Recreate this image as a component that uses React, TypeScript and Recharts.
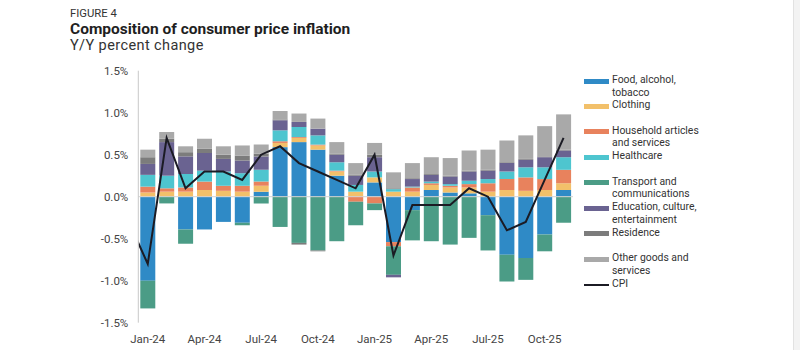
import React from "react";
import { Bar, ComposedChart, Line, ReferenceLine, XAxis, YAxis } from "recharts";

const months = [
  "Jan-24", "Feb-24", "Mar-24", "Apr-24", "May-24", "Jun-24", "Jul-24", "Aug-24",
  "Sep-24", "Oct-24", "Nov-24", "Dec-24", "Jan-25", "Feb-25", "Mar-25", "Apr-25",
  "May-25", "Jun-25", "Jul-25", "Aug-25", "Sep-25", "Oct-25", "Nov-25",
];

// contributions, percentage points
const food = [-1.0, 0, -0.39, -0.39, -0.3, -0.31, 0.06, 0.59, 0.65, 0.56, 0.25, 0, 0.17, -0.54, -0.16, 0.08, 0.05, 0.04, -0.22, -0.69, -0.73, -0.45, 0.08];
const clothing = [0.05, 0.06, 0.06, 0.08, 0.07, 0.06, 0.07, 0.05, 0.05, 0.05, 0.05, 0.06, 0.06, 0.06, 0.06, 0.06, 0.06, 0.07, 0.06, 0.08, 0.07, 0.08, 0.08];
const household = [0.07, 0.04, 0.05, 0.1, 0.06, 0.07, 0.05, 0.02, 0.01, 0.01, 0.01, -0.06, -0.08, -0.05, 0.05, 0.02, 0.02, 0.04, 0.1, 0.13, 0.16, 0.13, 0.16];
const healthcare = [0.14, 0.15, 0.16, 0.13, 0.17, 0.15, 0.14, 0.13, 0.12, 0.11, 0.1, 0.08, 0.07, 0.03, 0.01, 0.02, 0.02, 0.04, 0.05, 0.09, 0.12, 0.14, 0.15];
const transport = [-0.33, -0.08, -0.17, 0, 0, -0.03, -0.08, -0.36, -0.55, -0.64, -0.53, -0.28, -0.08, -0.34, -0.36, -0.53, -0.57, -0.49, -0.42, -0.32, -0.26, -0.2, -0.31];
const education = [0.13, 0.4, 0.21, 0.21, 0.15, 0.15, 0.16, 0.12, 0.06, 0.08, 0.09, 0.11, 0.17, -0.03, 0.09, 0.08, 0.09, 0.11, 0.1, 0.1, 0.09, 0.12, 0.08];
const residence = [0.08, 0.04, 0.05, 0.05, 0.05, 0.06, 0.03, 0.01, -0.02, -0.01, 0.01, 0.01, 0.03, 0.01, 0.01, 0.01, 0.01, 0.01, 0.01, 0.01, 0.01, 0.01, 0.01];
const other = [0.09, 0.08, 0.07, 0.12, 0.1, 0.12, 0.11, 0.1, 0.1, 0.12, 0.14, 0.14, 0.14, 0.19, 0.18, 0.2, 0.21, 0.24, 0.24, 0.26, 0.28, 0.36, 0.42];

// CPI line starts one month earlier (clipped at the plot edge)
const cpiMonths = ["Dec-23", ...months];
const cpi = [-0.3, -0.8, 0.7, 0.1, 0.3, 0.3, 0.2, 0.5, 0.6, 0.4, 0.3, 0.2, 0.1, 0.5, -0.7, -0.1, -0.1, -0.1, 0.1, 0, -0.4, -0.3, 0.2, 0.7];

const yTicks = [-1.5, -1, -0.5, 0, 0.5, 1, 1.5];

const series = [
  { key: "food", label: ["Food, alcohol,", "tobacco"], color: "#2f8ac6", values: food },
  { key: "clothing", label: ["Clothing"], color: "#f2c06a", values: clothing },
  { key: "household", label: ["Household articles", "and services"], color: "#e8825d", values: household },
  { key: "healthcare", label: ["Healthcare"], color: "#4ec5cf", values: healthcare },
  { key: "transport", label: ["Transport and", "communications"], color: "#4b9c86", values: transport },
  { key: "education", label: ["Education, culture,", "entertainment"], color: "#6a6391", values: education },
  { key: "residence", label: ["Residence"], color: "#7c7c7c", values: residence },
  { key: "other", label: ["Other goods and", "services"], color: "#a9a9a9", values: other },
];

const barData = months.map((m, i) => {
  const row: Record<string, string | number> = { month: m };
  series.forEach((s) => (row[s.key] = s.values[i]));
  return row;
});

const lineData = cpiMonths.map((m, i) => ({ month: m, pos: i - 1, cpi: cpi[i] }));

const tickStyle = { fill: "#444", fontSize: 11.5, fontFamily: "Roboto" };

function LegendBox() {
  const items = [
    ...series.map((s) => ({ label: s.label, color: s.color, line: false })),
    { label: ["CPI"], color: "#1b1b24", line: true },
  ];
  return (
    <div style={{ position: "absolute", left: 584, top: 74 }}>
      {items.map((it, i) => (
        <div key={i} style={{ position: "relative", height: 25.45 }}>
          <div
            style={{
              position: "absolute",
              left: 0,
              top: it.line ? 6 : 4.5,
              width: 25,
              height: it.line ? 2 : 5,
              background: it.color,
            }}
          />
          <div
            style={{
              position: "absolute",
              left: 28,
              top: 0,
              fontSize: 10.4,
              lineHeight: "12.6px",
              color: "#333",
              whiteSpace: "nowrap",
            }}
          >
            {it.label.map((l) => (
              <div key={l}>{l}</div>
            ))}
          </div>
        </div>
      ))}
    </div>
  );
}

export default function App() {
  return (
    <div
      style={{
        position: "absolute",
        left: 0,
        top: 0,
        width: 800,
        height: 350,
        background: "#fff",
        fontFamily: "Roboto, sans-serif",
        overflow: "hidden",
      }}
    >
      <div style={{ position: "absolute", left: 70, top: 7, fontSize: 11.3, color: "#333" }}>FIGURE 4</div>
      <div style={{ position: "absolute", left: 70, top: 20, fontSize: 15.5, fontWeight: 700, color: "#1f1f1f" }}>
        Composition of consumer price inflation
      </div>
      <div style={{ position: "absolute", left: 70, top: 37, fontSize: 14.5, color: "#333", letterSpacing: 0.4 }}>
        Y/Y percent change
      </div>

      <div style={{ position: "absolute", left: 0, top: 0 }}>
        <ComposedChart
          width={800}
          height={350}
          data={barData}
          stackOffset="sign"
          margin={{ top: 70.7, right: 227, left: 98.3, bottom: 7.3 }}
        >
          <XAxis
            xAxisId="cat"
            dataKey="month"
            interval={2}
            tickLine={false}
            axisLine={false}
            tick={tickStyle}
            tickMargin={6}
            height={20}
          />
          <XAxis
            xAxisId="num"
            type="number"
            dataKey="pos"
            domain={[-0.5, months.length - 0.5]}
            allowDataOverflow
            hide
          />
          <YAxis
            domain={[-1.5, 1.5]}
            ticks={yTicks}
            tickFormatter={(v: number) => `${v.toFixed(1)}%`}
            tickLine={false}
            axisLine={{ stroke: "#c8c8c8" }}
            tick={tickStyle}
            tickMargin={4}
            width={40}
          />
          {series.map((s) => (
            <Bar
              key={s.key}
              xAxisId="cat"
              dataKey={s.key}
              stackId="a"
              fill={s.color}
              barSize={15}
              isAnimationActive={false}
            />
          ))}
          <ReferenceLine xAxisId="cat" y={0} stroke="#d2d2d2" strokeWidth={1} />
          <Line
            xAxisId="num"
            data={lineData}
            dataKey="cpi"
            stroke="#1b1b24"
            strokeWidth={2}
            dot={false}
            isAnimationActive={false}
          />
        </ComposedChart>
      </div>

      <LegendBox />
      <div style={{ position: "absolute", left: 793, top: 0, width: 7, height: 350, background: "#f3f3f3", borderLeft: "1px solid #e2e2e2" }} />
    </div>
  );
}
